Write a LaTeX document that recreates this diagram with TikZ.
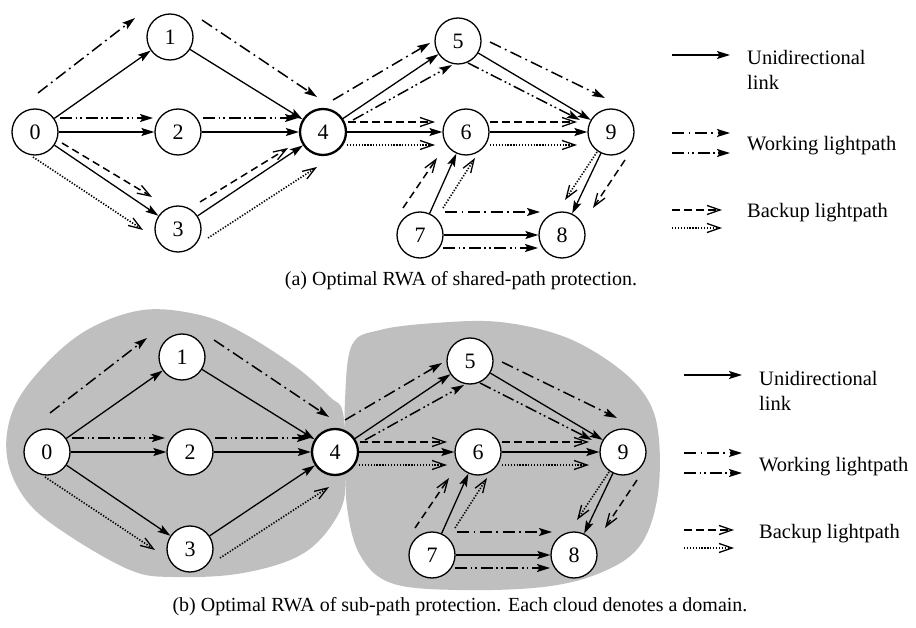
\documentclass[tikz,border=0pt]{standalone}
\usepackage{fontspec}
\setmainfont{Liberation Serif}
\usetikzlibrary{arrows.meta}
\tikzset{
  nd/.style={circle,draw,line width=1.3pt,minimum size=46pt,inner sep=0pt,fill=white,font=\fontsize{22}{24}\selectfont},
  ndb/.style={nd,line width=2.3pt},
  fhead/.style={-{Stealth[length=13pt,width=8pt,inset=2.5pt]}},
  ohead/.style={-{Straight Barb[length=13pt,width=9pt,line width=1.3pt]}},
  link/.style={line width=1.3pt,fhead},
  wdd/.style={line width=1.5pt,fhead,dash pattern=on 12pt off 4.5pt on 1.8pt off 4.5pt},
  wddd/.style={line width=1.5pt,fhead,dash pattern=on 12pt off 3.5pt on 1.8pt off 3pt on 1.8pt off 3.5pt},
  bdash/.style={line width=1.5pt,ohead,dash pattern=on 7.5pt off 4.5pt},
  bdot/.style={line width=1.6pt,ohead,dash pattern=on 1.3pt off 1.6pt},
  cloud/.style={fill=gray!50,draw=none},
  legtext/.style={anchor=base west,inner sep=0pt,font=\fontsize{20.5}{25}\selectfont,align=left},
  captext/.style={inner sep=0pt,font=\fontsize{20}{22}\selectfont}
}
\newcommand\mynet{%
  \node[nd]  (n0) at (35,132) {0};
  \node[nd]  (n1) at (170,37) {1};
  \node[nd]  (n2) at (178,132) {2};
  \node[nd]  (n3) at (178,229) {3};
  \node[ndb] (n4) at (323,132) {4};
  \node[nd]  (n5) at (458,41) {5};
  \node[nd]  (n6) at (466,132) {6};
  \node[nd]  (n9) at (611,132) {9};
  \node[nd]  (n7) at (420,235) {7};
  \node[nd]  (n8) at (562,235) {8};
  % unidirectional links
  \draw[link] (n0) -- (n1);
  \draw[link] (n0) -- (n2);
  \draw[link] (n0) -- (n3);
  \draw[link] (n1) -- (n4);
  \draw[link] (n2) -- (n4);
  \draw[link] (n3) -- (n4);
  \draw[link] (n4) -- (n5);
  \draw[link] (n4) -- (n6);
  \draw[link] (n5) -- (n9);
  \draw[link] (n6) -- (n9);
  \draw[link] (n7) -- (n6);
  \draw[link] (n7) -- (n8);
  \draw[link] (n9) -- (n8);
  % working lightpaths
  \coordinate (w1s) at (38,93);   \coordinate (w1e) at (135,18);
  \coordinate (w2s) at (202,20);  \coordinate (w2e) at (317,97);
  \coordinate (w3s) at (60,118);  \coordinate (w3e) at (153,118);
  \coordinate (w4s) at (203,118); \coordinate (w4e) at (298,118);
  \coordinate (w5s) at (333,100); \coordinate (w5e) at (430,43);
  \coordinate (w6s) at (353,120); \coordinate (w6e) at (452,65);
  \coordinate (w7s) at (490,42);  \coordinate (w7e) at (605,98);
  \coordinate (w8s) at (468,63);  \coordinate (w8e) at (580,120);
  \coordinate (w9s) at (445,212); \coordinate (w9e) at (540,212);
  \coordinate (w10s) at (443,248); \coordinate (w10e) at (538,248);
  \draw[wdd]  (w1s) -- (w1e);
  \draw[wdd]  (w2s) -- (w2e);
  \draw[wddd] (w3s) -- (w3e);
  \draw[wddd] (w4s) -- (w4e);
  \draw[wdd]  (w5s) -- (w5e);
  \draw[wddd] (w6s) -- (w6e);
  \draw[wdd]  (w7s) -- (w7e);
  \draw[wddd] (w8s) -- (w8e);
  \draw[wdd]  (w9s) -- (w9e);
  \draw[wddd] (w10s) -- (w10e);
  % backup lightpaths
  \coordinate (b2s) at (33,157);   \coordinate (b2e) at (143,230);
  \coordinate (b4s) at (208,238);  \coordinate (b4e) at (317,167);
  \coordinate (b5s) at (348,122);  \coordinate (b5e) at (435,122);
  \coordinate (b6s) at (347,145);  \coordinate (b6e) at (435,145);
  \coordinate (b7s) at (490,122);  \coordinate (b7e) at (577,122);
  \coordinate (b8s) at (490,145);  \coordinate (b8e) at (577,145);
  \coordinate (b9s) at (403,208);  \coordinate (b9e) at (437,158);
  \coordinate (b10s) at (443,208); \coordinate (b10e) at (475,158);
  \coordinate (b11s) at (597,152); \coordinate (b11e) at (565,200);
  \coordinate (b12s) at (625,160); \coordinate (b12e) at (593,208);
  \draw[bdot]  (b2s) -- (b2e);
  \draw[bdot]  (b4s) -- (b4e);
  \draw[bdash] (b5s) -- (b5e);
  \draw[bdot]  (b6s) -- (b6e);
  \draw[bdash] (b7s) -- (b7e);
  \draw[bdot]  (b8s) -- (b8e);
  \draw[bdash] (b9s) -- (b9e);
  \draw[bdot]  (b10s) -- (b10e);
  \draw[bdot]  (b11s) -- (b11e);
  \draw[bdash] (b12s) -- (b12e);
  % legend
  \coordinate (l1s) at (672,55);  \coordinate (l1e) at (730,55);
  \coordinate (l2s) at (672,133); \coordinate (l2e) at (730,133);
  \coordinate (l3s) at (672,153); \coordinate (l3e) at (730,153);
  \coordinate (l4s) at (672,210); \coordinate (l4e) at (722,210);
  \coordinate (l5s) at (672,228); \coordinate (l5e) at (722,228);
  \draw[link]  (l1s) -- (l1e);
  \draw[wdd]   (l2s) -- (l2e);
  \draw[wddd]  (l3s) -- (l3e);
  \draw[bdash] (l4s) -- (l4e);
  \draw[bdot]  (l5s) -- (l5e);
  \node[legtext] (t1) at (747,90) {Unidirectional\\link};
  \node[legtext] (t2) at (747,151) {Working lightpath};
  \node[legtext] (t3) at (747,218) {Backup lightpath};
}
\begin{document}
\begin{tikzpicture}[x=1pt,y=-1pt]
  \useasboundingbox (0,0) rectangle (916,628);
  % clouds (domains) of part (b)
  \fill[cloud] plot[smooth cycle,tension=0.6] coordinates {(143,310) (200,315) (243,333) (296,367) (330,397) (343,413) (346,473) (339,513) (304,553) (243,573) (174,577) (130,570) (65,533) (26,500) (7,457) (13,410) (43,367) (87,330)};
  \fill[cloud] plot[smooth cycle,tension=0.6] coordinates {(352,345) (380,330) (435,323) (500,322) (565,337) (617,367) (648,400) (659,440) (657,500) (639,547) (600,573) (543,587) (457,590) (391,583) (360,555) (347,507) (346,453) (345,400)};
  % part (a)
  \begin{scope}[name prefix=a-]
    \mynet
    \coordinate (b1s) at (62,143);  \coordinate (b1e) at (152,197);
    \coordinate (b3s) at (200,202); \coordinate (b3e) at (288,148);
    \draw[bdash] (b1s) -- (b1e);
    \draw[bdash] (b3s) -- (b3e);
  \end{scope}
  \node[captext] (capa) at (461,281) {(a) Optimal RWA of shared-path protection.};
  % part (b)
  \begin{scope}[shift={(12,320)},name prefix=b-]
    \mynet
  \end{scope}
  \node[captext] (capb) at (460,607) {(b) Optimal RWA of sub-path protection. Each cloud denotes a domain.};
\end{tikzpicture}
\end{document}
